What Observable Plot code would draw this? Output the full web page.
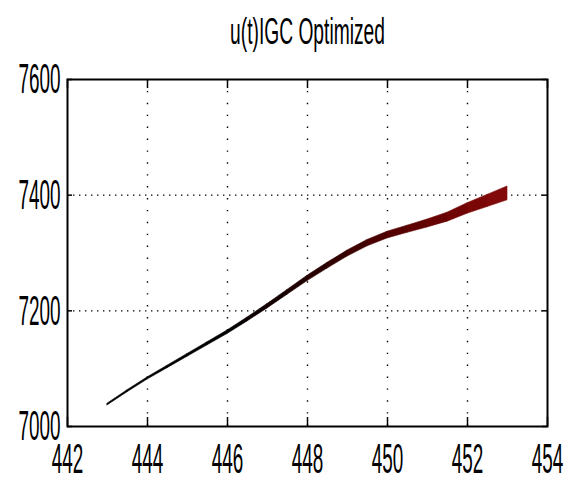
<!DOCTYPE html>
<html>
<head>
<meta charset="utf-8">
<script src="https://cdn.jsdelivr.net/npm/d3@7"></script>
<script src="https://cdn.jsdelivr.net/npm/@observablehq/plot@0.6"></script>
<style>
  body { margin: 0; background: #fff; }
</style>
</head>
<body>
<div id="chart"></div>
<script>
// Chart title and axis ticks
const title = "u(t)IGC Optimized";
const xTicks = [442, 444, 446, 448, 450, 452, 454];
const yTicks = [7000, 7200, 7400, 7600];

// Optimized trajectory: time, value and half-spread of the band
const t = [443.0, 443.5, 444.0, 444.5, 445.0, 445.5, 446.0, 446.5, 447.0, 447.5, 448.0,
           448.5, 449.0, 449.5, 450.0, 450.5, 451.0, 451.5, 452.0, 452.5, 453.0];
const u = [7038, 7061, 7083, 7103, 7123, 7143, 7163, 7185, 7208, 7232, 7256,
           7278, 7299, 7317, 7331, 7341, 7351, 7362, 7377, 7390, 7403];
const spread = [1.5, 1.7, 1.9, 2.1, 2.4, 2.7, 3.0, 3.4, 3.8, 4.2, 4.6,
                5.0, 5.2, 5.5, 5.8, 6.2, 6.8, 7.8, 9.0, 10.5, 12.0];

// One band piece per interval, coloured by its midpoint in time
const rows = [];
for (let i = 0; i < t.length - 1; i++) {
  const mid = (t[i] + t[i + 1]) / 2;
  for (const j of [i, i + 1]) {
    rows.push({seg: i, t: t[j], lo: u[j] - spread[j], hi: u[j] + spread[j], mid});
  }
}

const plotW = 573, plotH = 482;
const mL = 67, mR = 26, mT = 79, mB = 56;
const frameW = plotW - mL - mR, frameH = plotH - mT - mB;

const chart = Plot.plot({
  width: plotW,
  height: plotH,
  marginLeft: mL, marginRight: mR, marginTop: mT, marginBottom: mB,
  style: {fontFamily: "'Liberation Sans', Arial, sans-serif", background: "#fff", color: "#000"},
  x: {domain: [442, 454]},
  y: {domain: [7000, 7600]},
  color: {
    type: "linear",
    domain: [446, 448, 450, 452, 453],
    range: ["#000000", "#220000", "#500000", "#760505", "#850a0a"]
  },
  marks: [
    // dotted grid
    Plot.ruleX(xTicks.slice(1, -1), {x: d => d, stroke: "#000", strokeWidth: 1.4, strokeDasharray: "1.4,10.5"}),
    Plot.ruleY(yTicks.slice(1, -1), {y: d => d, stroke: "#000", strokeWidth: 1.4, strokeDasharray: "1.4,4.6"}),
    // inward tick marks on all four sides
    Plot.tickX(xTicks, {x: d => d, insetTop: frameH - 9, stroke: "#000", strokeWidth: 1.5}),
    Plot.tickX(xTicks, {x: d => d, insetBottom: frameH - 9, stroke: "#000", strokeWidth: 1.5}),
    Plot.tickY(yTicks, {y: d => d, insetRight: frameW - 5, stroke: "#000", strokeWidth: 1.5}),
    Plot.tickY(yTicks, {y: d => d, insetLeft: frameW - 5, stroke: "#000", strokeWidth: 1.5}),
    // trajectory band
    Plot.areaY(rows, {x: "t", y1: "lo", y2: "hi", z: "seg", fill: "mid", stroke: "mid", strokeWidth: 0.6}),
    Plot.frame({stroke: "#000", strokeWidth: 2}),
    Plot.axisX({ticks: xTicks, tickSize: 0, tickPadding: 16, fontSize: 43, label: null, tickFormat: d => String(d)}),
    Plot.axisY({ticks: yTicks, tickSize: 0, tickPadding: 7, fontSize: 43, label: null, tickFormat: d => String(d)}),
    Plot.text([title], {text: d => d, frameAnchor: "top", dy: -62, fontSize: 37})
  ]
});

// narrow the lettering horizontally around each text's anchor
function squeeze(el, k) {
  const x = +el.getAttribute("x") || 0;
  const tr = el.getAttribute("transform") || "";
  el.setAttribute("transform", `${tr} translate(${x},0) scale(${k},1) translate(${-x},0)`);
}
chart.querySelectorAll('g[aria-label="x-axis tick label"] text, g[aria-label="y-axis tick label"] text')
  .forEach(el => squeeze(el, 0.44));
chart.querySelectorAll('g[aria-label="text"] text').forEach(el => squeeze(el, 0.52));

document.getElementById("chart").appendChild(chart);
</script>
</body>
</html>
